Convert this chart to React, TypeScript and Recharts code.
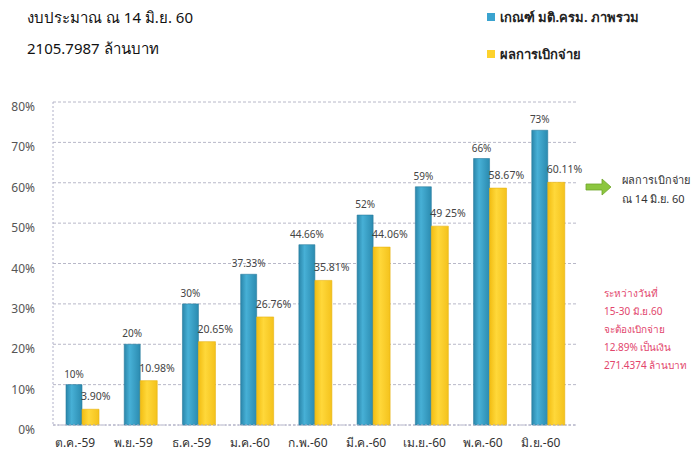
import React from "react";
import { BarChart, Bar, XAxis, YAxis, CartesianGrid, LabelList } from "recharts";

const categories = ["ต.ค.-59", "พ.ย.-59", "ธ.ค.-59", "ม.ค.-60", "ก.พ.-60", "มี.ค.-60", "เม.ย.-60", "พ.ค.-60", "มิ.ย.-60"];
const targetValues = [10, 20, 30, 37.33, 44.66, 52, 59, 66, 73];
const targetLabels = ["10%", "20%", "30%", "37.33%", "44.66%", "52%", "59%", "66%", "73%"];
const actualValues = [3.9, 10.98, 20.65, 26.76, 35.81, 44.06, 49.25, 58.67, 60.11];
const actualLabels = ["3.90%", "10.98%", "20.65%", "26.76%", "35.81%", "44.06%", "49 25%", "58.67%", "60.11%"];
const yTicks = [0, 10, 20, 30, 40, 50, 60, 70, 80];

const seriesNames = { target: "เกณฑ์ มติ.ครม. ภาพรวม", actual: "ผลการเบิกจ่าย" };
const titleLines = ["งบประมาณ ณ 14 มิ.ย. 60", "2105.7987 ล้านบาท"];
const arrowNote = ["ผลการเบิกจ่าย", "ณ 14 มิ.ย. 60"];
const redNote = ["ระหว่างวันที่", "15-30 มิ.ย.60", "จะต้องเบิกจ่าย", "12.89% เป็นเงิน", "271.4374 ล้านบาท"];

const data = categories.map((c, i) => ({
  name: c,
  target: targetValues[i],
  actual: actualValues[i],
  targetLabel: targetLabels[i],
  actualLabel: actualLabels[i],
}));

const FONT = "Tahoma, 'Noto Sans', 'DejaVu Sans', sans-serif";
const labelColor = "#444";

const XTick = (props: any) => {
  const { x, y, payload } = props;
  return (
    <text x={x - 7} y={y + 14} textAnchor="middle" fontSize={12} fill="#333" fontFamily={FONT}>
      {payload.value}
    </text>
  );
};

const YTick = (props: any) => {
  const { x, y, payload } = props;
  return (
    <text x={x - 10} y={y + 9} textAnchor="end" fontSize={12} fill="#555" fontFamily={FONT}>
      {payload.value}%
    </text>
  );
};

const TargetLabel = (props: any) => {
  const { x, y, width, index } = props;
  return (
    <text x={x + width / 2} y={y - 7} textAnchor="middle" fontSize={10} fill={labelColor} fontFamily={FONT}>
      {targetLabels[index]}
    </text>
  );
};

const ActualLabel = (props: any) => {
  const { x, y, index } = props;
  return (
    <text x={x - 1} y={y - 9} textAnchor="start" fontSize={10.5} fill={labelColor} fontFamily={FONT}>
      {actualLabels[index]}
    </text>
  );
};

export default function App() {
  return (
    <div style={{ position: "absolute", left: 0, top: 0, width: 693, height: 457, background: "#fff", fontFamily: FONT, overflow: "hidden" }}>
      <BarChart
        width={693}
        height={457}
        data={data}
        margin={{ top: 102, right: 116, bottom: 2, left: 5 }}
        barGap={0}
        barCategoryGap={0}
      >
        <defs>
          <linearGradient id="gBlue" x1="0" y1="0" x2="1" y2="0">
            <stop offset="0%" stopColor="#2a86aa" />
            <stop offset="35%" stopColor="#47b0d6" />
            <stop offset="100%" stopColor="#2b8bb0" />
          </linearGradient>
          <linearGradient id="gYellow" x1="0" y1="0" x2="1" y2="0">
            <stop offset="0%" stopColor="#f2bd12" />
            <stop offset="40%" stopColor="#ffd83a" />
            <stop offset="100%" stopColor="#f4c21c" />
          </linearGradient>
        </defs>
        <CartesianGrid vertical={false} stroke="#b8b8c8" strokeDasharray="3 2" />
        <XAxis
          dataKey="name"
          height={30}
          tick={<XTick />}
          tickLine={false}
          axisLine={{ stroke: "#b0b0c8", strokeDasharray: "2 2" }}
          interval={0}
        />
        <YAxis
          width={48}
          domain={[0, 80]}
          ticks={yTicks}
          tick={<YTick />}
          tickLine={false}
          axisLine={{ stroke: "#b0b0c8", strokeDasharray: "2 2" }}
        />
        <Bar dataKey="target" name={seriesNames.target} fill="url(#gBlue)" stroke="#2a7c9e" strokeWidth={0.6} barSize={16} isAnimationActive={false}>
          <LabelList dataKey="targetLabel" content={<TargetLabel />} />
        </Bar>
        <Bar dataKey="actual" name={seriesNames.actual} fill="url(#gYellow)" stroke="#e8b410" strokeWidth={0.6} barSize={17} isAnimationActive={false}>
          <LabelList dataKey="actualLabel" content={<ActualLabel />} />
        </Bar>
      </BarChart>

      <div style={{ position: "absolute", left: 27, top: 7, fontSize: 15, color: "#111", lineHeight: "20px" }}>{titleLines[0]}</div>
      <div style={{ position: "absolute", left: 27, top: 38, fontSize: 15, color: "#111", lineHeight: "20px" }}>{titleLines[1]}</div>

      <div style={{ position: "absolute", left: 487, top: 13, width: 8, height: 8, background: "#3aa3cf" }} />
      <div style={{ position: "absolute", left: 500, top: 8, fontSize: 13, fontWeight: "bold", color: "#222", lineHeight: "18px" }}>{seriesNames.target}</div>
      <div style={{ position: "absolute", left: 487, top: 50, width: 8, height: 8, background: "#fdd22c" }} />
      <div style={{ position: "absolute", left: 500, top: 45, fontSize: 13, fontWeight: "bold", color: "#222", lineHeight: "18px" }}>{seriesNames.actual}</div>

      <svg style={{ position: "absolute", left: 585, top: 178 }} width={28} height={18}>
        <polygon points="1,6 17,6 17,1 26,9 17,17 17,12 1,12" fill="#8cc63f" stroke="#6fa52a" strokeWidth={0.8} />
      </svg>
      <div style={{ position: "absolute", left: 622, top: 170, fontSize: 11, color: "#333", lineHeight: "19px" }}>
        <div>{arrowNote[0]}</div>
        <div>{arrowNote[1]}</div>
      </div>

      <div style={{ position: "absolute", left: 604, top: 284, fontSize: 10, color: "#e2456c", lineHeight: "18px" }}>
        {redNote.map((l, i) => (
          <div key={i}>{l}</div>
        ))}
      </div>
    </div>
  );
}
